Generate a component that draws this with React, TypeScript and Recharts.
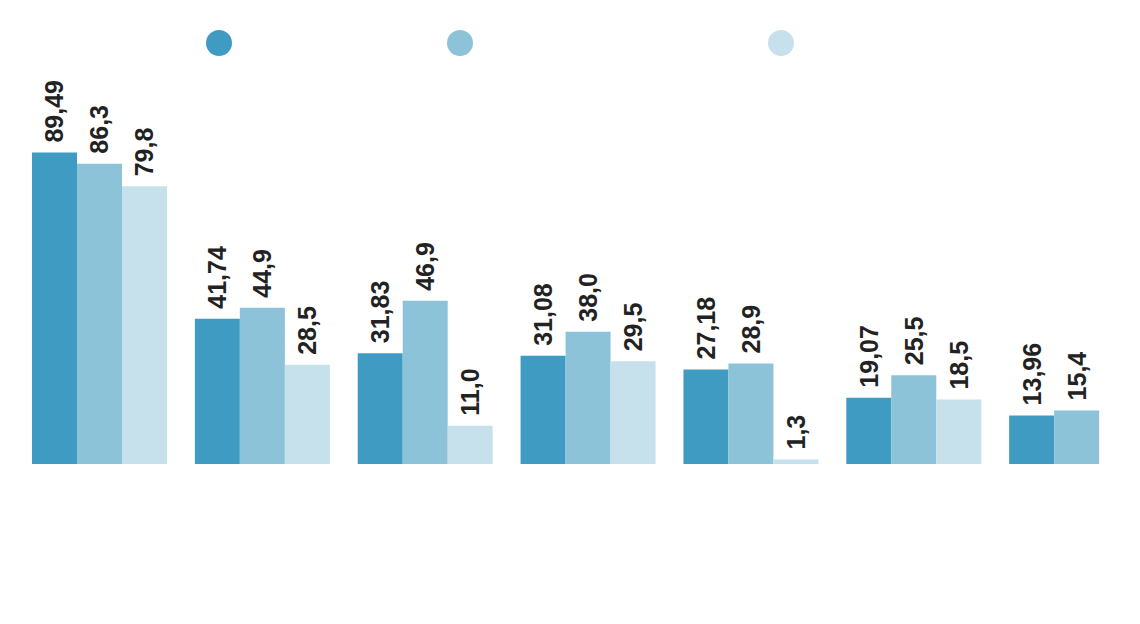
import React from 'react';
import { BarChart, Bar, XAxis, YAxis, Legend, LabelList } from 'recharts';

const categories = ['G1', 'G2', 'G3', 'G4', 'G5', 'G6', 'G7'];
const seriesA = [89.49, 41.74, 31.83, 31.08, 27.18, 19.07, 13.96];
const seriesB = [86.3, 44.9, 46.9, 38.0, 28.9, 25.5, 15.4];
const seriesC: (number | null)[] = [79.8, 28.5, 11.0, 29.5, 1.3, 18.5, null];

const colors = ['#3f9bc1', '#8cc3d9', '#c6e1ec'];

// combine the arrays into rows for recharts
const chartData = categories.map((name, i) => ({
  name,
  a: seriesA[i],
  b: seriesB[i],
  c: seriesC[i],
}));

const makeLabel = (digits: number) => (props: any) => {
  const { x, y, width, value } = props;
  if (value === null || value === undefined) return null;
  const cx = Number(x) + Number(width) / 2;
  const ty = Number(y) - 10;
  return (
    <text
      x={cx}
      y={ty}
      transform={`rotate(-90, ${cx}, ${ty})`}
      textAnchor="start"
      dominantBaseline="central"
      fontFamily="'Liberation Sans', Arial, sans-serif"
      fontWeight="bold"
      fontSize={25}
      fill="#222"
    >
      {Number(value).toFixed(digits).replace('.', ',')}
    </text>
  );
};

const LegendDots = () => {
  const gaps = [206, 215, 295];
  return (
    <div style={{ display: 'flex', height: 26 }}>
      {colors.map((c, i) => (
        <span
          key={c}
          style={{
            display: 'inline-block',
            width: 26,
            height: 26,
            borderRadius: '50%',
            background: c,
            marginLeft: gaps[i],
          }}
        />
      ))}
    </div>
  );
};

export default function App() {
  return (
    <div style={{ position: 'absolute', left: 0, top: 0, width: 1140, height: 624, overflow: 'hidden', background: '#fff' }}>
      <BarChart
        width={1160}
        height={624}
        data={chartData}
        margin={{ top: 90, right: 2, bottom: 160, left: 18 }}
        barGap={0}
        barCategoryGap={14}
      >
        <XAxis dataKey="name" hide />
        <YAxis hide domain={[0, 100]} />
        <Legend
          verticalAlign="top"
          content={<LegendDots />}
          wrapperStyle={{ position: 'absolute', top: 30, left: 0, width: 1140, height: 26 }}
        />
        <Bar dataKey="a" fill={colors[0]} isAnimationActive={false}>
          <LabelList dataKey="a" content={makeLabel(2)} />
        </Bar>
        <Bar dataKey="b" fill={colors[1]} isAnimationActive={false}>
          <LabelList dataKey="b" content={makeLabel(1)} />
        </Bar>
        <Bar dataKey="c" fill={colors[2]} isAnimationActive={false}>
          <LabelList dataKey="c" content={makeLabel(1)} />
        </Bar>
      </BarChart>
    </div>
  );
}
